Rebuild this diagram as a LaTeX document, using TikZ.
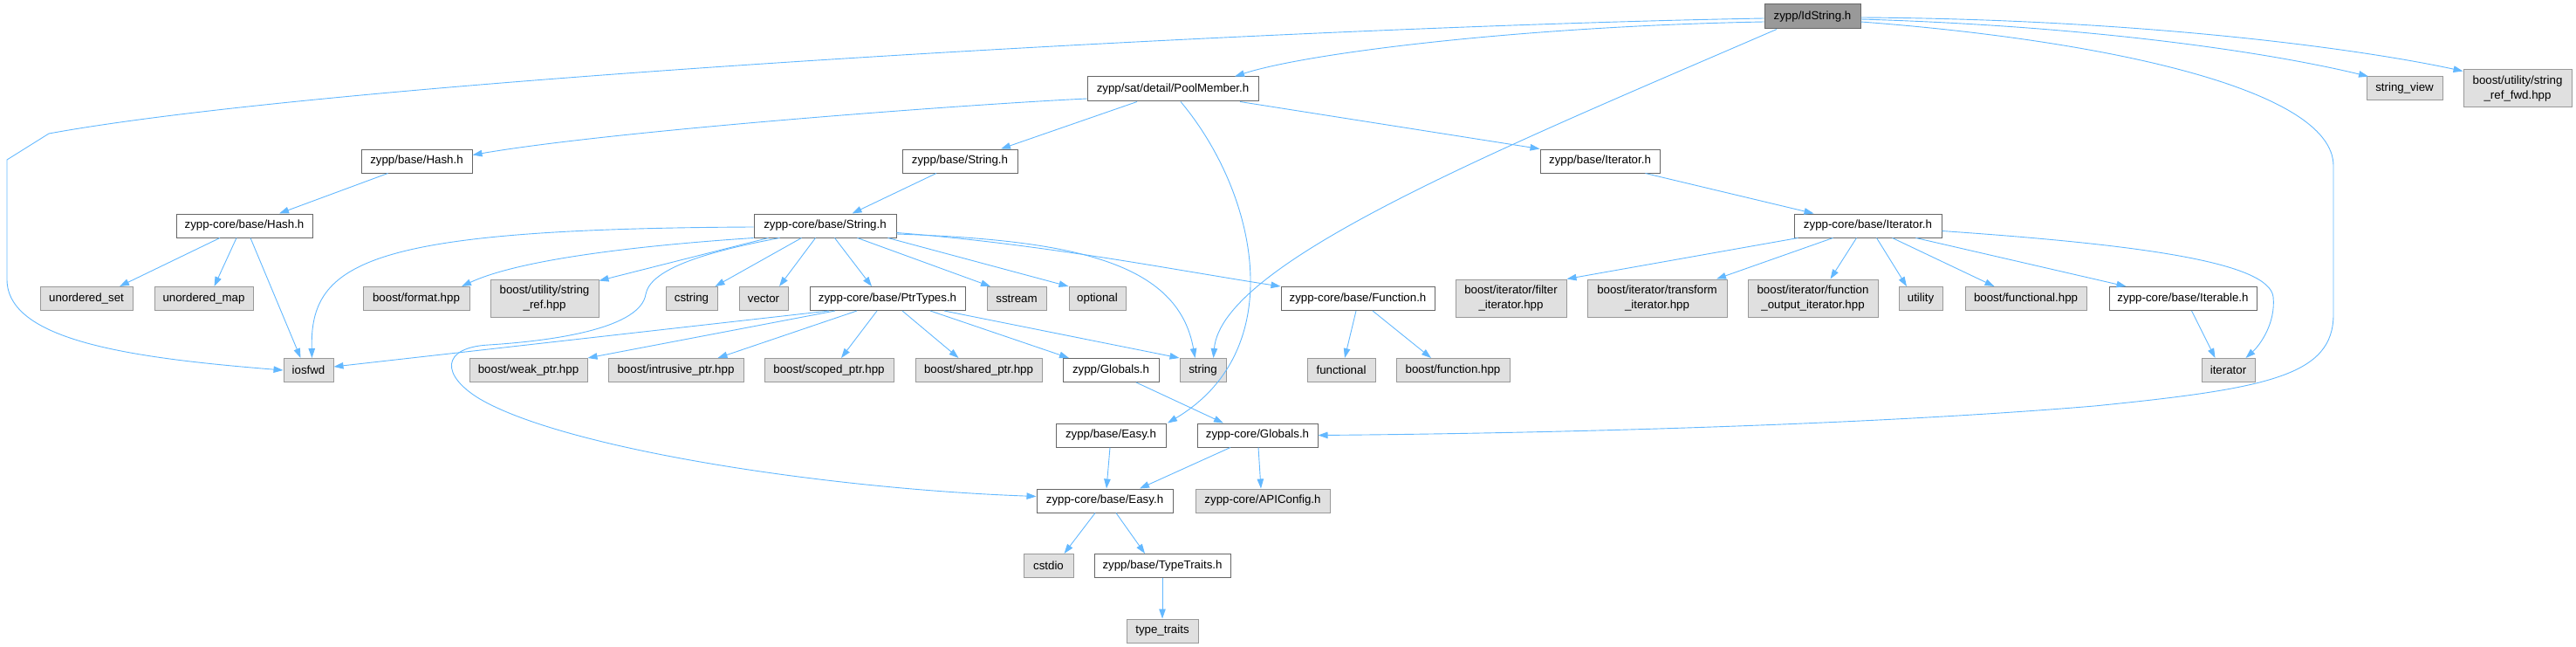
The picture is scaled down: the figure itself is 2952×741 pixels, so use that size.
\documentclass[tikz,border=0pt]{standalone}
\usepackage{fontspec}
\setmainfont{Liberation Sans}
\usetikzlibrary{arrows.meta}
\definecolor{edgec}{HTML}{63B8FF}
\definecolor{extfill}{HTML}{E0E0E0}
\definecolor{extborder}{HTML}{999999}
\definecolor{boxborder}{HTML}{666666}
\definecolor{curfill}{HTML}{999999}
\begin{document}
\begin{tikzpicture}[x=1pt,y=-1pt,
  box/.style={draw=boxborder, fill=white, line width=1pt, inner sep=0pt, minimum height=27pt, font=\fontsize{13.3}{17}\selectfont, align=center},
  ext/.style={box, draw=extborder, fill=extfill},
  cur/.style={box, draw=boxborder, fill=curfill},
  tall/.style={minimum height=43pt},
  dep/.style={draw=edgec, line width=0.9pt, -{Triangle[length=11pt,width=7.5pt]}}
]
\useasboundingbox (0,0) rectangle (2952,741);

% row 0-1
\node[cur, minimum width=110pt, minimum height=28pt] (idstr) at (2077,19) {zypp/IdString.h};
\node[box, minimum width=196pt, minimum height=28pt] (pool) at (1344,102) {zypp/sat/detail/PoolMember.h};
\node[ext, minimum width=87pt] (svw) at (2755.5,101.5) {string\_view};
\node[ext, tall, minimum width=124pt] (fwd) at (2885,101.5) {boost/utility/string\\\_ref\_fwd.hpp};
% row 2
\node[box, minimum width=127pt] (bhash) at (477.5,184.5) {zypp/base/Hash.h};
\node[box, minimum width=132pt] (bstr) at (1100,184.5) {zypp/base/String.h};
\node[box, minimum width=137pt] (biter) at (1833.5,184.5) {zypp/base/Iterator.h};
% row 3
\node[box, minimum width=156pt] (chash) at (280,258.5) {zypp-core/base/Hash.h};
\node[box, minimum width=163pt] (cstr) at (945.5,258.5) {zypp-core/base/String.h};
\node[box, minimum width=169pt] (citer) at (2140.5,258.5) {zypp-core/base/Iterator.h};
% row 4
\node[ext, minimum width=106pt] (uset) at (99,342) {unordered\_set};
\node[ext, minimum width=113pt] (umap) at (233.5,342) {unordered\_map};
\node[ext, minimum width=122pt] (fmt) at (477,342) {boost/format.hpp};
\node[ext, tall, minimum width=124pt] (sref) at (624,341.5) {boost/utility/string\\\_ref.hpp};
\node[ext, minimum width=59pt] (cstring) at (792.5,342) {cstring};
\node[ext, minimum width=56pt] (vector) at (875,342) {vector};
\node[box, minimum width=178pt] (ptr) at (1017,342) {zypp-core/base/PtrTypes.h};
\node[ext, minimum width=68pt] (sstream) at (1165,342) {sstream};
\node[ext, minimum width=65pt] (optional) at (1257.5,342) {optional};
\node[box, minimum width=176pt] (func) at (1556,342) {zypp-core/base/Function.h};
\node[ext, tall, minimum width=127pt] (filt) at (1731.5,341.5) {boost/iterator/filter\\\_iterator.hpp};
\node[ext, tall, minimum width=160pt] (trans) at (1899,341.5) {boost/iterator/transform\\\_iterator.hpp};
\node[ext, tall, minimum width=149pt] (fout) at (2077.5,341.5) {boost/iterator/function\\\_output\_iterator.hpp};
\node[ext, minimum width=50pt] (utility) at (2201,342) {utility};
\node[ext, minimum width=139pt] (bfunc) at (2321.5,342) {boost/functional.hpp};
\node[box, minimum width=169pt] (iterable) at (2501.5,342) {zypp-core/base/Iterable.h};
% row 5
\node[ext, minimum width=57pt] (iosfwd) at (353.5,424) {iosfwd};
\node[ext, minimum width=135pt] (weak) at (605.5,424) {boost/weak\_ptr.hpp};
\node[ext, minimum width=155pt] (intr) at (774.5,424) {boost/intrusive\_ptr.hpp};
\node[ext, minimum width=148pt] (scoped) at (950,424) {boost/scoped\_ptr.hpp};
\node[ext, minimum width=145pt] (shared) at (1121.5,424) {boost/shared\_ptr.hpp};
\node[box, minimum width=110pt] (zglob) at (1273,424) {zypp/Globals.h};
\node[ext, minimum width=53pt] (string) at (1378.5,424) {string};
\node[ext, minimum width=78pt] (functional) at (1537,424) {functional};
\node[ext, minimum width=130pt] (bfunction) at (1665,424) {boost/function.hpp};
\node[ext, minimum width=61pt] (iterator) at (2553.5,424) {iterator};
% row 6-9
\node[box, minimum width=126pt] (beasy) at (1273,498.5) {zypp/base/Easy.h};
\node[box, minimum width=138pt] (cglob) at (1441,498.5) {zypp-core/Globals.h};
\node[box, minimum width=156pt] (ceasy) at (1266,573.5) {zypp-core/base/Easy.h};
\node[ext, minimum width=154pt] (apic) at (1447,573.5) {zypp-core/APIConfig.h};
\node[ext, minimum width=57pt] (cstdio) at (1201.5,648) {cstdio};
\node[box, minimum width=156pt] (ttraits) at (1332,648) {zypp/base/TypeTraits.h};
\node[ext, minimum width=82pt] (typetr) at (1332,722.5) {type\_traits};

% edges from IdString
\draw[dep] ([yshift=-2]idstr.west) .. controls (1500,30) and (400,90) .. (56,153) -- (8,183) -- (8,320) .. controls (8,390) and (150,410) .. (iosfwd.west);
\draw[dep] ([yshift=-6]idstr.west) .. controls (1750,30) and (1500,60) .. ([xshift=71]pool.north);
\draw[dep] ([xshift=-41]idstr.south) .. controls (1720,170) and (1400,300) .. ([xshift=12]string.north);
\draw[dep] ([yshift=-6]idstr.east) .. controls (2400,45) and (2674,100) .. (2674,190) -- (2674,360) .. controls (2674,430) and (2600,445) .. (2400,465) .. controls (2100,490) and (1700,497) .. (cglob.east);
\draw[dep] ([yshift=-3]idstr.east) .. controls (2400,30) and (2600,60) .. ([xshift=-41.5]svw.north);
\draw[dep] ([yshift=-1]idstr.east) .. controls (2450,22) and (2700,55) .. ([yshift=20]fwd.west);

% PoolMember
\draw[dep] ([yshift=-11]pool.west) .. controls (1100,120) and (700,150) .. ([yshift=7]bhash.east);
\draw[dep] ([xshift=-41]pool.south) -- ([xshift=47]bstr.north);
\draw[dep] ([xshift=77]pool.south) -- (biter.north west);
\draw[dep] ([xshift=9]pool.south) .. controls (1440,220) and (1480,400) .. ([xshift=65]beasy.north);

% level 2 -> 3
\draw[dep] ([xshift=-33]bhash.south) -- ([xshift=40]chash.north);
\draw[dep] ([xshift=-27]bstr.south) -- ([xshift=31]cstr.north);
\draw[dep] ([xshift=52]biter.south) -- ([xshift=-62]citer.north);

% zypp-core/base/Hash.h
\draw[dep] ([xshift=-28]chash.south) -- ([xshift=38]uset.north);
\draw[dep] ([xshift=-9]chash.south) -- ([xshift=12]umap.north);
\draw[dep] ([xshift=7]chash.south) -- ([xshift=-9]iosfwd.north);

% zypp-core/base/String.h
\draw[dep] ([yshift=-1.5]cstr.west) .. controls (420,262) and (355,300) .. ([xshift=4]iosfwd.north);
\draw[dep] (cstr.south west) .. controls (750,280) and (600,295) .. ([xshift=52]fmt.north);
\draw[dep] ([xshift=-65]cstr.south) -- ([yshift=-2]sref.north east);
\draw[dep] ([xshift=-27]cstr.south) -- ([xshift=27]cstring.north);
\draw[dep] ([xshift=-11]cstr.south) -- ([xshift=18]vector.north);
\draw[dep] ([xshift=11]cstr.south) -- ([xshift=-18]ptr.north);
\draw[dep] ([xshift=37]cstr.south) -- ([xshift=-30]sstream.north);
\draw[dep] ([xshift=72]cstr.south) -- ([xshift=-33]optional.north);
\draw[dep] ([yshift=-9.5]cstr.east) .. controls (1230,275) and (1350,300) .. ([xshift=-9]string.north);
\draw[dep] ([yshift=-8]cstr.east) .. controls (1200,280) and (1350,310) .. (func.north west);
\draw[dep] ([xshift=-52]cstr.south) .. controls (800,290) and (745,310) .. (740,337) .. controls (734,375) and (640,390) .. (560,395) .. controls (505,398) and (505,430) .. (550,457) .. controls (650,515) and (950,560) .. ([yshift=5]ceasy.west);

% PtrTypes
\draw[dep] ([xshift=-67]ptr.south) -- ([yshift=4]iosfwd.east);
\draw[dep] ([xshift=-60]ptr.south) -- (weak.north east);
\draw[dep] ([xshift=-35]ptr.south) -- ([xshift=48]intr.north);
\draw[dep] ([xshift=-12]ptr.south) -- ([xshift=14]scoped.north);
\draw[dep] ([xshift=17]ptr.south) -- ([xshift=-23]shared.north);
\draw[dep] ([xshift=49]ptr.south) -- ([xshift=-48]zglob.north);
\draw[dep] ([xshift=65]ptr.south) -- (string.north west);

% Function.h
\draw[dep] ([xshift=-2]func.south) -- ([xshift=4]functional.north);
\draw[dep] ([xshift=17]func.south) -- ([xshift=-25]bfunction.north);

% Globals
\draw[dep] ([xshift=29]zglob.south) -- ([xshift=-39]cglob.north);

% zypp-core/base/Iterator.h
\draw[dep] ([xshift=-80]citer.south) -- (filt.north east);
\draw[dep] ([xshift=-40]citer.south) -- ([xshift=68]trans.north);
\draw[dep] ([xshift=-13]citer.south) -- ([xshift=20]fout.north);
\draw[dep] ([xshift=10]citer.south) -- ([xshift=-16]utility.north);
\draw[dep] ([xshift=28]citer.south) -- ([xshift=-36]bfunc.north);
\draw[dep] ([xshift=55]citer.south) -- ([xshift=-65]iterable.north);
\draw[dep] ([yshift=-6]citer.east) .. controls (2450,280) and (2600,300) .. (2605,340) .. controls (2608,370) and (2590,395) .. ([xshift=20]iterator.north);
\draw[dep] ([xshift=10]iterable.south) -- ([xshift=-15]iterator.north);

% lower part
\draw[dep] ([xshift=-1]beasy.south) -- ([xshift=2]ceasy.north);
\draw[dep] ([xshift=-31]cglob.south) -- ([xshift=40]ceasy.north);
\draw[dep] ([xshift=1]cglob.south) -- ([xshift=-2]apic.north);
\draw[dep] ([xshift=-11]ceasy.south) -- ([xshift=18]cstdio.north);
\draw[dep] ([xshift=13]ceasy.south) -- ([xshift=-20]ttraits.north);
\draw[dep] (ttraits.south) -- (typetr.north);
\end{tikzpicture}
\end{document}
